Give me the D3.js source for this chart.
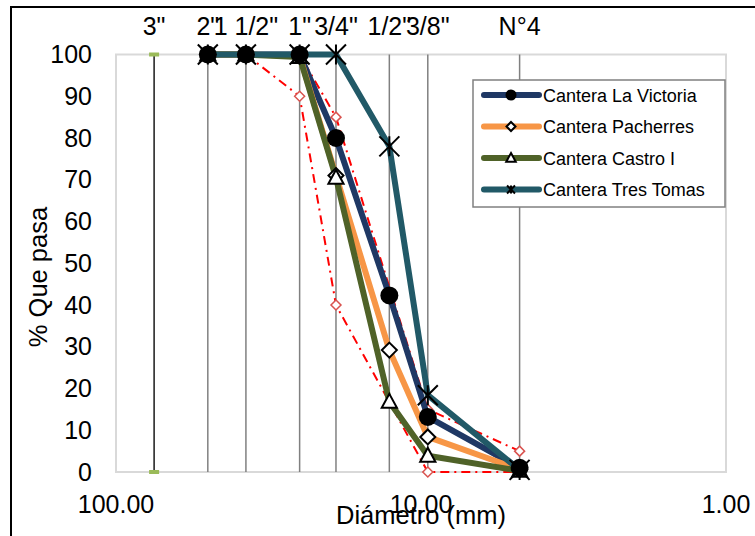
<!DOCTYPE html>
<html><head><meta charset="utf-8">
<script src="https://cdn.jsdelivr.net/npm/d3@7"></script>
<style>body{margin:0;background:#fff}svg{display:block}</style>
</head><body><svg id="c" width="755" height="536"></svg>
<script>
// ---- data ----
const sieveLabels = ['3"', '2"', '1 1/2"', '1"', '3/4"', '1/2"', '3/8"', 'N°4'];
const sieveMM = [75, 50, 37.5, 25, 19, 12.7, 9.5, 4.75];
const xTickValues = [100, 10, 1];
const yTickValues = [0, 10, 20, 30, 40, 50, 60, 70, 80, 90, 100];
// series measured at sieves 2" .. N°4
const seriesSieves = ['2"', '1 1/2"', '1"', '3/4"', '1/2"', '3/8"', 'N°4'];
const laVictoria = [100, 100, 100, 80, 42.3, 13.2, 1.0];
const pacherres = [100, 100, 99.7, 71, 29.2, 8.4, 0.6];
const castroI = [100, 100, 99.4, 70.5, 16.8, 3.9, 0.3];
const tresTomas = [100, 100, 100, 100, 78, 18.4, 0.5];
// gradation limits (huso)
const limitSieves = ['1 1/2"', '1"', '3/4"', '3/8"', 'N°4'];
const limitLower = [100, 90, 40, 0, 0];
const limitUpper = [100, 100, 85, 15, 5];
const seriesNames = ['Cantera La Victoria', 'Cantera Pacherres', 'Cantera Castro I', 'Cantera Tres Tomas'];

// ---- layout ----
const svg = d3.select('#c');
const L = 116, R = 726, T = 54.5, B = 472;
const x = d3.scaleLog().domain([100, 1]).range([L, R]);
const y = d3.scaleLinear().domain([0, 100]).range([B, T]);
const mm = lab => sieveMM[sieveLabels.indexOf(lab)];
const FONT = '"Liberation Sans", Arial, sans-serif';

// outer frame
svg.append('rect').attr('x', 11).attr('y', 7).attr('width', 760).attr('height', 540)
  .attr('fill', '#fff').attr('stroke', '#000').attr('stroke-width', 2);

// plot area border
svg.append('rect').attr('x', L).attr('y', T).attr('width', R - L).attr('height', B - T)
  .attr('fill', 'none').attr('stroke', '#d9d9d9').attr('stroke-width', 2);

// sieve vertical lines
sieveMM.forEach((d, i) => {
  svg.append('line').attr('x1', x(d)).attr('x2', x(d)).attr('y1', y(100)).attr('y2', y(0))
    .attr('stroke', i === 0 ? '#1a1a1a' : '#808080').attr('stroke-width', 1.5);
});
// green markers at 3"
[100, 0].forEach(v => {
  svg.append('rect').attr('x', x(sieveMM[0]) - 5).attr('y', y(v) - 2).attr('width', 10).attr('height', 4)
    .attr('fill', '#9bbb59');
});

// y axis labels
svg.append('g').selectAll('text').data(yTickValues).join('text')
  .attr('x', 92).attr('y', d => y(d) + 8.5).attr('text-anchor', 'end')
  .attr('font-family', FONT).attr('font-size', 25).text(d => d);

// x axis labels
svg.append('g').selectAll('text').data(xTickValues).join('text')
  .attr('x', d => x(d)).attr('y', 513).attr('text-anchor', 'middle')
  .attr('font-family', FONT).attr('font-size', 25).text(d => d3.format('.2f')(d));

// sieve labels at top
svg.append('g').selectAll('text').data(sieveLabels).join('text')
  .attr('x', (d, i) => x(sieveMM[i])).attr('y', 35).attr('text-anchor', 'middle')
  .attr('font-family', FONT).attr('font-size', 25).text(d => d);

// axis titles
svg.append('text').attr('x', 421).attr('y', 524).attr('text-anchor', 'middle')
  .attr('font-family', FONT).attr('font-size', 25.5).text('Diámetro (mm)');
svg.append('text').attr('transform', 'translate(47,277) rotate(-90)').attr('text-anchor', 'middle')
  .attr('font-family', FONT).attr('font-size', 25.5).text('% Que pasa');

// limit lines
const line = d3.line().x(d => x(d[0])).y(d => y(d[1]));
[limitLower, limitUpper].forEach(vals => {
  const pts = limitSieves.map((s, i) => [mm(s), vals[i]]);
  svg.append('path').attr('d', line(pts)).attr('fill', 'none').attr('stroke', '#ff0000')
    .attr('stroke-width', 2).attr('stroke-dasharray', '9,5,2,5');
  svg.append('g').selectAll('path').data(pts).join('path')
    .attr('transform', d => `translate(${x(d[0])},${y(d[1])})`)
    .attr('d', 'M0,-5L5,0L0,5L-5,0Z').attr('fill', '#fff').attr('stroke', '#d9534f').attr('stroke-width', 1.5);
});

// marker shapes
const markers = {
  circle: (g, s) => g.append('circle').attr('r', s).attr('fill', '#000'),
  diamond: (g, s) => g.append('path').attr('d', `M0,${-s}L${s},0L0,${s}L${-s},0Z`).attr('fill', '#fff').attr('stroke', '#000').attr('stroke-width', 2),
  triangle: (g, s) => g.append('path').attr('d', `M0,${-s}L${s * 0.95},${s * 0.75}L${-s * 0.95},${s * 0.75}Z`).attr('fill', '#fff').attr('stroke', '#000').attr('stroke-width', 2),
  star: (g, s) => g.append('path').attr('d', `M${-s},${-s}L${s},${s}M${-s},${s}L${s},${-s}M0,${-s}L0,${s}`).attr('fill', 'none').attr('stroke', '#000').attr('stroke-width', 2)
};
const seriesDefs = [
  {name: seriesNames[0], vals: laVictoria, color: '#1f3864', marker: 'circle', size: 9, lsize: 5.5},
  {name: seriesNames[1], vals: pacherres, color: '#f79646', marker: 'diamond', size: 7.5, lsize: 4.5},
  {name: seriesNames[2], vals: castroI, color: '#4f6228', marker: 'triangle', size: 8, lsize: 5},
  {name: seriesNames[3], vals: tresTomas, color: '#215967', marker: 'star', size: 10, lsize: 4}
];
// lines first
seriesDefs.forEach(sd => {
  const pts = seriesSieves.map((s, i) => [mm(s), sd.vals[i]]);
  svg.append('path').attr('d', line(pts)).attr('fill', 'none').attr('stroke', sd.color)
    .attr('stroke-width', 6).attr('stroke-linejoin', 'round');
});
// then markers
[1, 2, 0, 3].forEach(k => {
  const sd = seriesDefs[k];
  seriesSieves.forEach((s, i) => {
    const g = svg.append('g').attr('transform', `translate(${x(mm(s))},${y(sd.vals[i])})`);
    markers[sd.marker](g, sd.size);
  });
});

// legend
const lg = svg.append('g');
lg.append('rect').attr('x', 473).attr('y', 80).attr('width', 252).attr('height', 127)
  .attr('fill', '#fff').attr('stroke', '#808080').attr('stroke-width', 1.5);
seriesDefs.forEach((sd, i) => {
  const cy = 95 + i * 31.5;
  lg.append('line').attr('x1', 484).attr('x2', 539).attr('y1', cy).attr('y2', cy)
    .attr('stroke', sd.color).attr('stroke-width', 6).attr('stroke-linecap', 'round');
  const g = lg.append('g').attr('transform', `translate(511,${cy})`);
  markers[sd.marker](g, sd.lsize);
  lg.append('text').attr('x', 543).attr('y', cy + 6.5).attr('font-family', FONT)
    .attr('font-size', 18).text(sd.name);
});
</script></body></html>
